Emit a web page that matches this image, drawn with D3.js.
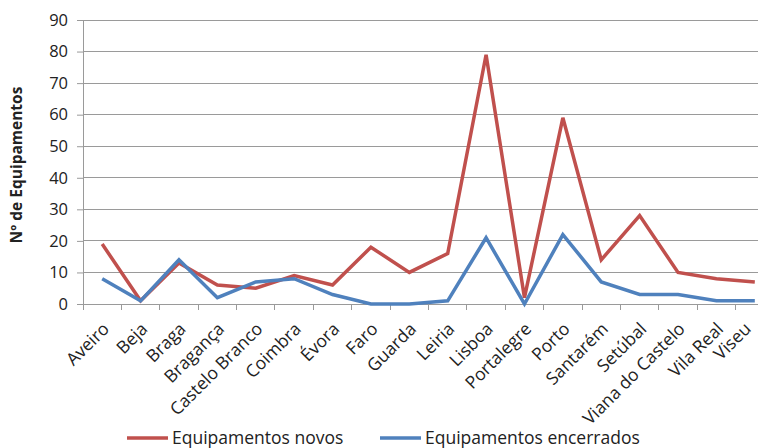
<!DOCTYPE html>
<html>
<head>
<meta charset="utf-8">
<script src="https://cdn.jsdelivr.net/npm/d3@7"></script>
<style>
  html, body { margin: 0; padding: 0; background: #fff; }
  svg { display: block; font-family: "Open Sans", "Noto Sans", sans-serif; }
</style>
</head>
<body>
<svg id="chart" width="758" height="448"></svg>
<script>
// Distritos
const categories = ["Aveiro", "Beja", "Braga", "Bragança", "Castelo Branco", "Coimbra", "Évora", "Faro", "Guarda", "Leiria", "Lisboa", "Portalegre", "Porto", "Santarém", "Setúbal", "Viana do Castelo", "Vila Real", "Viseu"];
const novos = [19, 1, 13, 6, 5, 9, 6, 18, 10, 16, 79, 2, 59, 14, 28, 10, 8, 7];
const encerrados = [8, 1, 14, 2, 7, 8, 3, 0, 0, 1, 21, 0, 22, 7, 3, 3, 1, 1];
const yTicks = [0, 10, 20, 30, 40, 50, 60, 70, 80, 90];
const seriesNames = ["Equipamentos novos", "Equipamentos encerrados"];
const seriesColors = ["#C0504D", "#4F81BD"];

const svg = d3.select("#chart");
const plotLeft = 83, plotRight = 774, plotTop = 20, plotBottom = 304;

const x = d3.scaleBand().domain(categories).range([plotLeft, plotRight]);
const y = d3.scaleLinear().domain([0, 90]).range([plotBottom, plotTop]);

// Horizontal gridlines
svg.append("g").selectAll("line").data(yTicks.filter(d => d > 0)).join("line")
  .attr("x1", plotLeft).attr("x2", plotRight)
  .attr("y1", d => y(d)).attr("y2", d => y(d))
  .attr("stroke", "#9a9a9a").attr("stroke-width", 1).attr("shape-rendering", "crispEdges");

// Y axis
const yAxis = svg.append("g").attr("transform", `translate(${plotLeft},0)`)
  .call(d3.axisLeft(y).tickValues(yTicks).tickSize(6).tickPadding(9));
yAxis.select(".domain").attr("stroke", "#9a9a9a");
yAxis.selectAll(".tick line").attr("stroke", "#9a9a9a");
yAxis.selectAll("text").attr("font-size", 16.5).attr("fill", "#222")
  .attr("font-family", "'Open Sans', sans-serif");

// X axis: ticks sit on category boundaries
const bounds = categories.map(c => x(c)).concat([plotRight]);
const xAxisG = svg.append("g");
xAxisG.append("line").attr("x1", plotLeft).attr("x2", plotRight)
  .attr("y1", plotBottom).attr("y2", plotBottom)
  .attr("stroke", "#9a9a9a").attr("shape-rendering", "crispEdges");
xAxisG.selectAll("line.tk").data(bounds).join("line").attr("class", "tk")
  .attr("x1", d => d).attr("x2", d => d)
  .attr("y1", plotBottom).attr("y2", plotBottom + 6)
  .attr("stroke", "#9a9a9a").attr("shape-rendering", "crispEdges");
xAxisG.selectAll("text").data(categories).join("text")
  .attr("transform", d => {
    // keep the last label inside the drawing area
    const cx = Math.min(x(d) + x.bandwidth() / 2 + 8, 752);
    return `translate(${cx},${plotBottom + 26}) rotate(-45)`;
  })
  .attr("text-anchor", "end")
  .attr("font-size", 17.5).attr("fill", "#222")
  .text(d => d);

// Y axis title
svg.append("text")
  .attr("transform", "translate(22,165) rotate(-90)")
  .attr("text-anchor", "middle")
  .attr("font-size", 15.5).attr("font-weight", "bold").attr("fill", "#222")
  .text("Nº de Equipamentos");

// Lines
const line = d3.line()
  .x((d, i) => x(categories[i]) + x.bandwidth() / 2)
  .y(d => y(d));
[novos, encerrados].forEach((vals, k) => {
  svg.append("path").datum(vals)
    .attr("d", line)
    .attr("fill", "none")
    .attr("stroke", seriesColors[k])
    .attr("stroke-width", 3.5)
    .attr("stroke-linejoin", "miter");
});

// Legend
const legendPos = [127, 380];
seriesNames.forEach((name, k) => {
  const g = svg.append("g").attr("transform", `translate(${legendPos[k]},438)`);
  g.append("line").attr("x1", 0).attr("x2", 41).attr("y1", 0).attr("y2", 0)
    .attr("stroke", seriesColors[k]).attr("stroke-width", 3.5);
  g.append("text").attr("x", 45).attr("y", 6)
    .attr("font-size", 17.5).attr("fill", "#222")
    .text(name);
});
</script>
</body>
</html>
